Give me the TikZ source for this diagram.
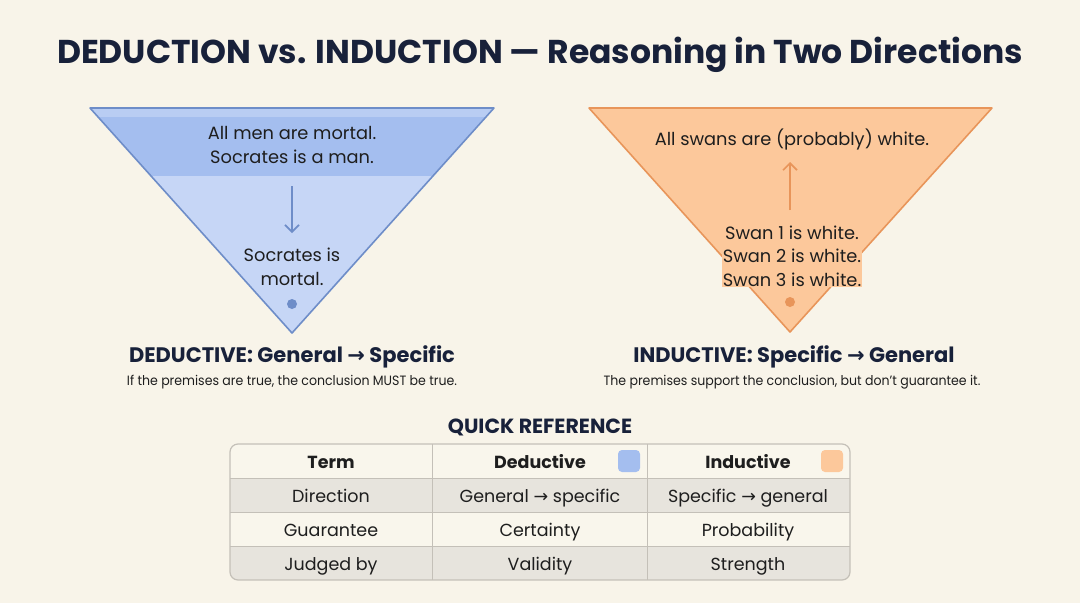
\documentclass[tikz,border=0pt]{standalone}
\usepackage{fontspec}
\setmainfont{Poppins}
\newfontfamily\arr{DejaVu Sans}
\newfontfamily\subfont[FakeStretch=0.93]{Poppins}
\usetikzlibrary{arrows.meta}
\definecolor{bg}{HTML}{F8F4E9}
\definecolor{navy}{HTML}{18213A}
\definecolor{txt}{HTML}{1E1E1E}
\definecolor{bfill}{HTML}{C6D6F6}
\definecolor{bband}{HTML}{A4BEEF}
\definecolor{bstrip}{HTML}{B9CDF3}
\definecolor{bedge}{HTML}{6E8DC8}
\definecolor{ofill}{HTML}{FCC89B}
\definecolor{oedge}{HTML}{E8955A}
\definecolor{rowgray}{HTML}{E7E4DD}
\definecolor{rowlight}{HTML}{F9F6EC}
\definecolor{grid}{HTML}{C4C0B8}
\newcommand{\ra}{{\arr\char"2192}}
\tikzset{
  tri text/.style={font=\fontsize{17.8}{23.5}\selectfont, text=txt, align=center, inner sep=1pt},
  head/.style={font=\bfseries\fontsize{21}{24}\selectfont, text=navy},
  sub/.style={font=\subfont\fontsize{13.5}{16}\selectfont, text=txt},
  cell/.style={font=\fontsize{17.5}{20}\selectfont, text=txt, anchor=base},
  hcell/.style={font=\bfseries\fontsize{17.5}{20}\selectfont, text=txt, anchor=base},
  swatch/.style={minimum size=22pt, inner sep=0pt, rounded corners=4pt},
}
\begin{document}
\begin{tikzpicture}[x=1pt,y=-1pt]
\useasboundingbox (0,0) rectangle (1080,603);
\fill[bg] (0,0) rectangle (1080,603);

% title
\node[font=\bfseries\fontsize{33}{38}\selectfont, text=navy] (title) at (540,55) {DEDUCTION vs. INDUCTION — Reasoning in Two Directions};

% left triangle
\begin{scope}
\clip (90,108) -- (494,108) -- (292,333) -- cycle;
\fill[bfill] (80,100) rectangle (500,340);
\fill[bstrip] (80,100) rectangle (500,117);
\fill[bband] (80,117) rectangle (500,176);
\end{scope}
\draw[bedge, line width=1.6pt, line join=round] (90,108) -- (494,108) -- (292,333) -- cycle;
\node[tri text] (dprem) at (292,145) {All men are mortal.\\Socrates is a man.};
\node[tri text] (dconc) at (292,267) {Socrates is\\mortal.};
\draw[bedge, line width=1.6pt, -{Straight Barb[length=7pt,width=14pt,line width=1.6pt]}] (292,186) -- (292,233);
\fill[bedge] (292,304) circle (5pt);

% right triangle
\fill[ofill] (589,108) -- (992,108) -- (790,332) -- cycle;
\draw[oedge, line width=1.6pt, line join=round] (589,108) -- (992,108) -- (790,332) -- cycle;
\node[tri text] (iconc) at (792,139) {All swans are (probably) white.};
\node[tri text, fill=ofill, inner sep=1pt] (iprem) at (792,256) {Swan 1 is white.\\Swan 2 is white.\\Swan 3 is white.};
\draw[oedge, line width=1.6pt, -{Straight Barb[length=7pt,width=14pt,line width=1.6pt]}] (790,210) -- (790,162);
\fill[oedge] (790,302) circle (5pt);

% labels
\node[head] (dhead) at (292,357) {DEDUCTIVE: General \ra\ Specific};
\node[sub] (dsub) at (292,382) {If the premises are true, the conclusion MUST be true.};
\node[head] (ihead) at (794,357) {INDUCTIVE: Specific \ra\ General};
\node[sub] (isub) at (792,382) {The premises support the conclusion, but don’t guarantee it.};

% table
\node[font=\bfseries\fontsize{20.5}{24}\selectfont, text=navy] (qr) at (540,427) {QUICK REFERENCE};
\begin{scope}
\clip[rounded corners=8pt] (230,444) rectangle (850,580);
\fill[rowlight] (230,444) rectangle (850,478);
\fill[rowgray] (230,478) rectangle (850,512);
\fill[rowlight] (230,512) rectangle (850,546);
\fill[rowgray] (230,546) rectangle (850,580);
\end{scope}
\draw[grid, line width=0.8pt] (230,478) -- (850,478) (230,512) -- (850,512) (230,546) -- (850,546)
  (432,444) -- (432,580) (647,444) -- (647,580);
\draw[grid, line width=1.2pt, rounded corners=8pt] (230,444) rectangle (850,580);

\node[hcell] (h1) at (331,468) {Term};
\node[hcell] (h2) at (540,468) {Deductive};
\node[hcell] (h3) at (748,468) {Inductive};
\node[swatch, fill=bband] (sw1) at (629,461) {};
\node[swatch, fill=ofill] (sw2) at (832,461) {};

\node[cell] (r1a) at (331,502) {Direction};
\node[cell] (r1b) at (540,502) {General \ra\ specific};
\node[cell] (r1c) at (748,502) {Specific \ra\ general};
\node[cell] (r2a) at (331,536) {Guarantee};
\node[cell] (r2b) at (540,536) {Certainty};
\node[cell] (r2c) at (748,536) {Probability};
\node[cell] (r3a) at (331,570) {Judged by};
\node[cell] (r3b) at (540,570) {Validity};
\node[cell] (r3c) at (748,570) {Strength};
\end{tikzpicture}
\end{document}
